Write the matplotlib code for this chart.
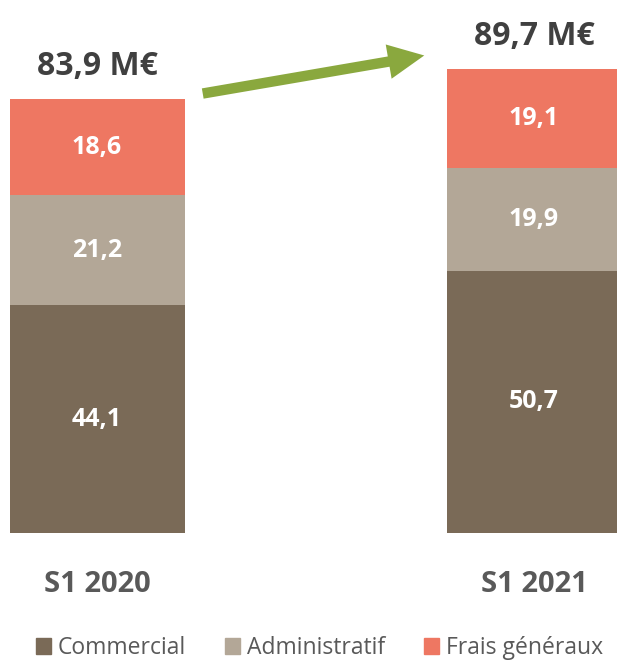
import matplotlib
matplotlib.use('Agg')
import matplotlib.pyplot as plt
from matplotlib.patches import FancyArrowPatch, Patch

# data
periods = ["S1 2020", "S1 2021"]
totals = ["83,9 M€", "89,7 M€"]
series = ["Commercial", "Administratif", "Frais généraux"]
commercial = [44.1, 50.7]
administratif = [21.2, 19.9]
frais = [18.6, 19.1]

colors = ["#7a6a57", "#b3a797", "#ee7762"]
plt.rcParams['font.family'] = ['Open Sans', 'DejaVu Sans']

fig = plt.figure(figsize=(6.17, 6.65), dpi=100)
ax = fig.add_axes([0, 1 - 533 / 665, 1, 533 / 665])
ax.set_xlim(-97 / 437, (617 - 97) / 437)
ax.set_ylim(0, 533 / 5.17)
ax.axis('off')

x = [0, 1]
w = 175 / 437
bottom = [0, 0]
for vals, c in zip([commercial, administratif, frais], colors):
    ax.bar(x, vals, w, bottom=bottom, color=c)
    for xi, v, b in zip(x, vals, bottom):
        ax.text(xi, b + v / 2, f"{v:.1f}".replace(".", ","), ha='center', va='center',
                color='white', fontsize=18, fontweight='bold')
    bottom = [b + v for b, v in zip(bottom, vals)]

for xi, t, b in zip(x, totals, bottom):
    ax.text(xi, b + 6.3, t, ha='center', va='center', color='#404040',
            fontsize=23, fontweight='bold')

for xi, p in zip(x, periods):
    fig.text((97 + 437 * xi) / 617, 1 - 584 / 665, p, ha='center', va='center',
             color='#595959', fontsize=21, fontweight='bold')

arrow = FancyArrowPatch((200 / 617, 1 - 94 / 665), (427 / 617, 1 - 55 / 665),
                        transform=fig.transFigure,
                        arrowstyle="simple,head_length=2.6,head_width=2.5,tail_width=0.75",
                        mutation_scale=10, color='#8aa83e', lw=0)
fig.patches.append(arrow)

handles = [Patch(color=c, label=s) for s, c in zip(series, colors)]
leg = fig.legend(handles=handles, loc='center', bbox_to_anchor=(0.518, 1 - 648 / 665),
                 ncol=3, frameon=False, fontsize=16.5, handlelength=0.65, handleheight=0.65,
                 handletextpad=0.3, columnspacing=1.7)
for t in leg.get_texts():
    t.set_color('#595959')

fig.savefig("out.png", dpi=100)
